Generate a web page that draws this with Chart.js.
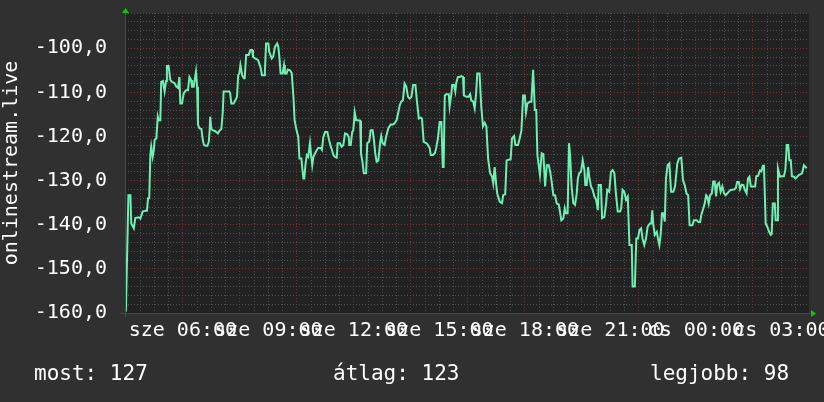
<!DOCTYPE html>
<html>
<head>
<meta charset="utf-8">
<script src="https://cdn.jsdelivr.net/npm/chart.js@4.4.1/dist/chart.umd.min.js"></script>
<style>
  body { margin: 0; background: #303030; }
  #wrap { position: relative; width: 824px; height: 402px; overflow: hidden; }
  .foot { position: absolute; top: 363px; color: #fff; font: 21px/21px "DejaVu Sans Mono", monospace; white-space: pre; }
</style>
</head>
<body>
<div id="wrap">
  <canvas id="chart" width="824" height="402"></canvas>
  <div class="foot" id="most" style="left:34px"></div>
  <div class="foot" id="atlag" style="left:333px"></div>
  <div class="foot" id="legjobb" style="left:650px"></div>
</div>
<script>
// idő (óra, a második nap 24 felett) és érték
const times = [
  4.00, 4.04, 4.09, 4.16, 4.19, 4.28, 4.33, 4.45, 4.51, 4.59,
  4.68, 4.74, 4.78, 4.82, 4.86, 4.89, 4.94, 4.98, 5.01, 5.07,
  5.12, 5.15, 5.21, 5.24, 5.30, 5.36, 5.41, 5.44, 5.50, 5.56,
  5.62, 5.71, 5.77, 5.83, 5.88, 5.91, 5.97, 6.03, 6.11, 6.18,
  6.23, 6.29, 6.32, 6.38, 6.42, 6.46, 6.50, 6.53, 6.58, 6.65,
  6.70, 6.74, 6.79, 6.86, 6.91, 6.94, 6.96, 7.00, 7.06, 7.14,
  7.23, 7.29, 7.35, 7.40, 7.43, 7.55, 7.63, 7.66, 7.70, 7.78,
  7.84, 7.90, 7.94, 7.98, 8.02, 8.08, 8.14, 8.17, 8.22, 8.31,
  8.37, 8.43, 8.46, 8.54, 8.64, 8.72, 8.78, 8.85, 8.88, 8.92,
  9.00, 9.03, 9.12, 9.17, 9.23, 9.31, 9.35, 9.38, 9.43, 9.50,
  9.55, 9.58, 9.64, 9.68, 9.76, 9.82, 9.88, 9.92, 9.99, 10.05,
  10.09, 10.16, 10.19, 10.23, 10.26, 10.30, 10.35, 10.40, 10.46, 10.50,
  10.54, 10.58, 10.61, 10.67, 10.75, 10.84, 10.88, 10.93, 10.99, 11.07,
  11.13, 11.19, 11.23, 11.28, 11.34, 11.40, 11.43, 11.51, 11.57, 11.63,
  11.69, 11.77, 11.82, 11.84, 11.89, 11.94, 11.98, 12.03, 12.08, 12.12,
  12.22, 12.25, 12.30, 12.35, 12.43, 12.47, 12.54, 12.59, 12.66, 12.71,
  12.75, 12.80, 12.86, 12.92, 12.96, 13.01, 13.08, 13.13, 13.21, 13.29,
  13.38, 13.44, 13.50, 13.56, 13.61, 13.66, 13.72, 13.78, 13.84, 13.90,
  13.96, 14.02, 14.08, 14.16, 14.21, 14.28, 14.35, 14.39, 14.45, 14.54,
  14.60, 14.66, 14.70, 14.78, 14.84, 14.89, 14.95, 15.01, 15.07, 15.12,
  15.15, 15.19, 15.24, 15.33, 15.36, 15.42, 15.45, 15.51, 15.56, 15.59,
  15.65, 15.71, 15.77, 15.83, 15.86, 15.95, 16.03, 16.08, 16.12, 16.19,
  16.24, 16.29, 16.33, 16.41, 16.47, 16.53, 16.59, 16.65, 16.71, 16.78,
  16.85, 16.89, 16.94, 16.99, 17.03, 17.12, 17.20, 17.24, 17.31, 17.36,
  17.45, 17.50, 17.55, 17.62, 17.67, 17.76, 17.82, 17.88, 17.94, 18.00,
  18.04, 18.09, 18.17, 18.23, 18.29, 18.35, 18.40, 18.44, 18.53, 18.59,
  18.65, 18.71, 18.77, 18.84, 18.89, 18.94, 19.00, 19.06, 19.12, 19.19,
  19.23, 19.28, 19.35, 19.40, 19.44, 19.50, 19.55, 19.59, 19.64, 19.70,
  19.76, 19.82, 19.86, 19.91, 19.97, 20.03, 20.09, 20.12, 20.17, 20.22,
  20.26, 20.32, 20.38, 20.44, 20.50, 20.56, 20.59, 20.67, 20.71, 20.79,
  20.85, 20.89, 20.96, 21.02, 21.08, 21.14, 21.20, 21.26, 21.34, 21.38,
  21.43, 21.49, 21.55, 21.61, 21.67, 21.75, 21.78, 21.86, 21.91, 21.97,
  22.02, 22.08, 22.13, 22.19, 22.25, 22.31, 22.39, 22.44, 22.47, 22.51,
  22.56, 22.63, 22.67, 22.72, 22.77, 22.81, 22.86, 22.91, 22.95, 23.01,
  23.07, 23.13, 23.21, 23.27, 23.35, 23.41, 23.49, 23.55, 23.61, 23.67,
  23.73, 23.78, 23.88, 23.93, 24.03, 24.09, 24.15, 24.19, 24.26, 24.31,
  24.36, 24.40, 24.45, 24.50, 24.56, 24.61, 24.66, 24.71, 24.75, 24.81,
  24.87, 24.93, 24.99, 25.05, 25.10, 25.16, 25.22, 25.34, 25.40, 25.45,
  25.51, 25.55, 25.61, 25.67, 25.72, 25.78, 25.83, 25.88, 25.93, 26.02,
  26.08, 26.12, 26.18, 26.25, 26.30, 26.35, 26.39, 26.45, 26.51, 26.57,
  26.63, 26.66, 26.70, 26.77, 26.80, 26.85, 26.88, 26.95, 27.03, 27.09,
  27.14, 27.19, 27.24, 27.28, 27.33, 27.37, 27.44, 27.50, 27.56, 27.62,
  27.68, 27.73, 27.79, 27.85, 27.89
];
const values = [
  -159.7, -148, -133.3, -133.3, -139.7, -140.8, -138.5, -138.3, -138.6, -137,
  -136.8, -136.8, -134, -134, -124.2, -122.3, -124.6, -123.1, -120.8, -120.4,
  -115.5, -116.3, -116.3, -107.6, -107.4, -109.8, -107.4, -104, -104, -107.2,
  -107.6, -107.9, -108.7, -109, -106.5, -112.5, -112.5, -110.2, -109.5, -109.5,
  -106.5, -107.2, -108.7, -108.7, -107, -105.3, -108.7, -117.3, -118.1, -118.3,
  -120.8, -121.9, -122.1, -122.1, -121.2, -118.6, -115.5, -118.3, -118.6, -118.8,
  -119.3, -118.6, -118.3, -114.5, -109.8, -109.8, -109.8, -110.2, -112.5, -112.5,
  -111.8, -111, -106.1, -105.7, -103.8, -106.1, -106.8, -106.8, -101.5, -101.5,
  -100.4, -100.4, -101.9, -102.3, -102.7, -104.2, -106.1, -106.1, -105, -98.9,
  -98.9, -100.8, -102.3, -101.9, -99.7, -98.9, -99.7, -101.5, -105.7, -105.7,
  -103.8, -105.7, -105.7, -104.8, -105, -105.6, -111, -116.3, -118.6, -120.1,
  -125, -125, -127.2, -129.5, -129.5, -126.5, -124.2, -124.6, -121.5, -124.2,
  -126.5, -124.6, -124.2, -123.4, -122.6, -122.6, -123, -120.1, -119, -119,
  -120.8, -122.3, -123, -124.2, -124.6, -124.8, -121.5, -121.5, -122.3, -121.9,
  -119.3, -119.5, -120.1, -121.9, -121.9, -119, -118.6, -114.5, -116.3, -116.3,
  -116.4, -123.8, -125.7, -128.3, -128.3, -121.5, -121.1, -118.6, -118.6, -121.1,
  -123.8, -125.7, -125.4, -121.5, -119.9, -121.5, -121.9, -120.1, -118.1, -117.3,
  -117.3, -116.9, -116.3, -114.5, -112.9, -112.1, -111.8, -108, -108.7, -111,
  -111.4, -111, -108.3, -108.3, -111.8, -115.9, -115.7, -115.9, -121.2, -121.5,
  -121.9, -122.6, -124.2, -124.2, -123.8, -122.6, -120.4, -116.7, -116.7, -126.9,
  -126.9, -110.7, -110.4, -110.4, -113.2, -110.4, -108.3, -108.3, -109.8, -107.9,
  -106.5, -106.5, -106.3, -106.5, -110.7, -111, -111, -110.4, -111.8, -112.1,
  -113.6, -110.2, -105.7, -105.7, -113.2, -117.7, -116.9, -117.7, -125, -128.3,
  -129.1, -130.6, -126.9, -130.6, -132.9, -134.8, -135.1, -133.3, -133.1, -125.4,
  -125.2, -125.2, -120.4, -119.9, -121.9, -121.9, -120.4, -118.6, -110.7, -110.7,
  -114.5, -112.5, -112.1, -112.1, -104.9, -114, -114, -124.2, -128.7, -123.8,
  -124, -131.3, -126.5, -126.5, -128, -130.2, -133.3, -133.3, -135.2, -135.4,
  -137, -139, -138.6, -136.3, -137.4, -137.4, -121.5, -124.5, -131.3, -135.1,
  -135.5, -132.9, -129.5, -128.3, -128, -125.4, -127.6, -131, -131, -126.9,
  -129.1, -131.3, -132.1, -133.6, -134.3, -136.7, -131, -131, -138.5, -138.2,
  -135.2, -132.1, -132.5, -128, -127.6, -128.3, -133.3, -137, -137, -136.3,
  -132.1, -132.5, -134.3, -133.6, -144.6, -144.6, -154, -154, -143.1, -143.1,
  -141.2, -140.8, -143.1, -144.6, -143.1, -140.4, -139.7, -139.7, -136.7, -140.1,
  -142.3, -141.6, -143.1, -144.6, -142, -137.4, -137.4, -139.3, -129.5, -126.5,
  -126.1, -132.5, -132.5, -131.3, -126.1, -125, -124.8, -129.9, -131, -132.9,
  -133.3, -140.1, -140.1, -139, -139, -139.4, -139.4, -137.8, -136.3, -135.2,
  -133.3, -133.6, -135.2, -133.3, -132.9, -130.2, -130.2, -133.6, -130.9, -130.5,
  -132.5, -131.3, -132.9, -133.3, -132.9, -132.5, -132.1, -132, -131.7, -130.3,
  -130.3, -131.9, -130.9, -131, -132.1, -132.9, -129.5, -129.1, -131.3, -131.3,
  -131.3, -129, -128.9, -127.7, -127.9, -126.6, -126.6, -139.7, -140.5, -141.6,
  -142.3, -142.1, -135.2, -135.2, -139, -139, -127.2, -129.1, -129, -129,
  -127.6, -121.9, -121.9, -125.4, -125.4, -129, -129.1, -129.5, -129.1, -128.7,
  -128.5, -128.3, -126.5, -126.9, -127.2
];

// tengelyek
const timeStart = 3.97, timeEnd = 27.97;
const yMin = -160, yMax = -92;
const dayNames = ['sze', 'cs'];

// összesítő
const most = 127, atlag = 123, legjobb = 98;

document.getElementById('most').textContent = 'most: ' + most;
document.getElementById('atlag').textContent = 'átlag: ' + atlag;
document.getElementById('legjobb').textContent = 'legjobb: ' + legjobb;

const FONT = 'DejaVu Sans Mono';
const RED = '#6e3434';
const GRAY = '#4e4e4e';

const rrdLook = {
  id: 'rrdLook',
  beforeDraw(chart) {
    const { ctx, chartArea: a } = chart;
    ctx.save();
    ctx.fillStyle = '#222222';
    ctx.fillRect(a.left, a.top, a.right - a.left, a.bottom - a.top);
    ctx.restore();
  },
  afterDraw(chart) {
    const { ctx, chartArea: a } = chart;
    ctx.save();
    // tengelyvonalak
    ctx.strokeStyle = '#484848';
    ctx.lineWidth = 1;
    ctx.beginPath();
    ctx.moveTo(a.left - 5, a.bottom + 0.5);
    ctx.lineTo(a.right + 3, a.bottom + 0.5);
    ctx.moveTo(a.left + 0.5, a.top - 1);
    ctx.lineTo(a.left + 0.5, a.bottom + 4);
    ctx.stroke();
    // nyilak
    ctx.fillStyle = '#00cc00';
    ctx.beginPath();
    ctx.moveTo(a.left - 3, a.top);
    ctx.lineTo(a.left + 4, a.top);
    ctx.lineTo(a.left + 0.5, a.top - 5);
    ctx.fill();
    ctx.beginPath();
    ctx.moveTo(a.right + 2, a.bottom - 3);
    ctx.lineTo(a.right + 2, a.bottom + 4);
    ctx.lineTo(a.right + 7, a.bottom + 0.5);
    ctx.fill();
    ctx.restore();
  }
};

// a tengelyek ne tegyenek plusz helyet a címkéknek
function noLabelPadding(s) {
  s.paddingTop = 0;
  s.paddingBottom = 0;
  s.paddingLeft = 0;
  s.paddingRight = 0;
}

const ctx = document.getElementById('chart').getContext('2d');
new Chart(ctx, {
  type: 'line',
  data: {
    datasets: [{
      data: times.map((t, i) => ({ x: t, y: values[i] })),
      borderColor: '#6ef0b4',
      borderWidth: 2,
      pointRadius: 0,
      tension: 0,
      fill: false
    }]
  },
  options: {
    responsive: false,
    animation: false,
    layout: { padding: { top: 13, right: 15, left: 0, bottom: 0 } },
    plugins: { legend: { display: false }, tooltip: { enabled: false } },
    scales: {
      x: {
        type: 'linear',
        min: timeStart,
        max: timeEnd,
        afterBuildTicks: (s) => {
          const t = [];
          for (let k = Math.ceil(timeStart * 2); k <= Math.floor(timeEnd * 2); k++) t.push({ value: k / 2 });
          s.ticks = t;
        },
        afterFit: (s) => { s.height = 89; noLabelPadding(s); },
        grid: {
          color: (c) => (c.tick && c.tick.value % 2 === 0 ? RED : GRAY),
          drawTicks: false,
          lineWidth: 1
        },
        border: { display: false, dash: [1, 2] },
        ticks: {
          autoSkip: false,
          maxRotation: 0,
          minRotation: 0,
          padding: 6,
          color: '#ffffff',
          font: { family: FONT, size: 20 },
          callback: (v) => {
            if (v % 3 !== 0) return '';
            const day = v < 24 ? dayNames[0] : dayNames[1];
            const h = v % 24;
            return day + ' ' + String(h).padStart(2, '0') + ':00';
          }
        }
      },
      y: {
        min: yMin,
        max: yMax,
        afterBuildTicks: (s) => {
          const t = [];
          for (let v = yMin; v <= yMax; v += 2) t.push({ value: v });
          s.ticks = t;
        },
        afterFit: (s) => { s.width = 125; noLabelPadding(s); },
        grid: {
          color: (c) => (c.tick && c.tick.value % 10 === 0 ? RED : GRAY),
          drawTicks: false,
          lineWidth: 1
        },
        border: { display: false, dash: [1, 2] },
        title: {
          display: true,
          text: 'onlinestream.live',
          color: '#ffffff',
          font: { family: FONT, size: 20 },
          padding: 0
        },
        ticks: {
          autoSkip: false,
          padding: 18,
          color: '#ffffff',
          font: { family: FONT, size: 20 },
          callback: (v) => (v % 10 === 0 ? v.toFixed(1).replace('.', ',') : '')
        }
      }
    }
  },
  plugins: [rrdLook]
});
</script>
</body>
</html>
